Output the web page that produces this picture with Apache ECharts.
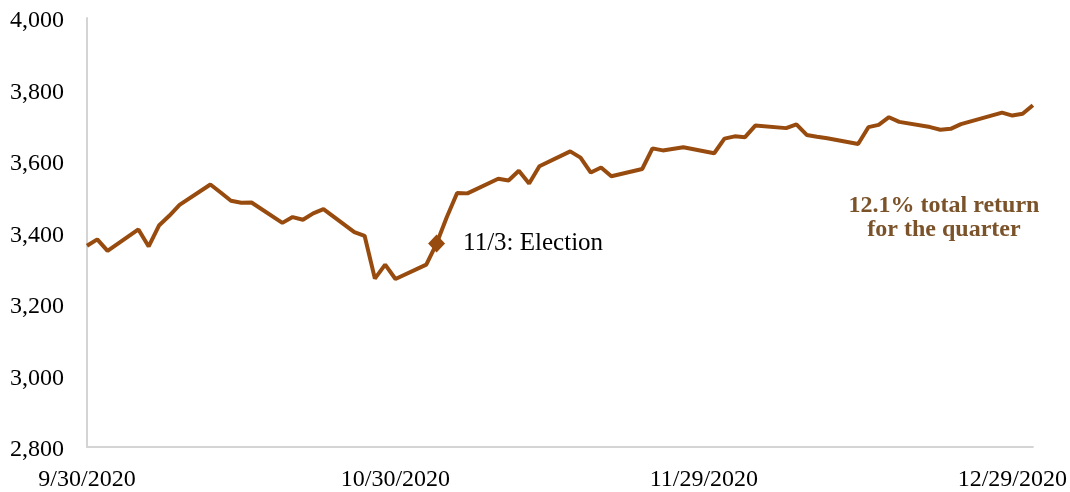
<!DOCTYPE html>
<html>
<head>
<meta charset="utf-8">
<script src="https://cdn.jsdelivr.net/npm/echarts@6/dist/echarts.min.js"></script>
<style>
  html, body { margin: 0; padding: 0; background: #fff; }
  #chart { width: 1070px; height: 492px; }
</style>
</head>
<body>
<div id="chart"></div>
<script>
// S&P 500 daily closes, Q4 2020
const dates = [
  '2020-09-30','2020-10-01','2020-10-02','2020-10-05','2020-10-06','2020-10-07','2020-10-08','2020-10-09',
  '2020-10-12','2020-10-13','2020-10-14','2020-10-15','2020-10-16','2020-10-19','2020-10-20','2020-10-21',
  '2020-10-22','2020-10-23','2020-10-26','2020-10-27','2020-10-28','2020-10-29','2020-10-30','2020-11-02',
  '2020-11-03','2020-11-04','2020-11-05','2020-11-06','2020-11-09','2020-11-10','2020-11-11','2020-11-12',
  '2020-11-13','2020-11-16','2020-11-17','2020-11-18','2020-11-19','2020-11-20','2020-11-23','2020-11-24',
  '2020-11-25','2020-11-27','2020-11-30','2020-12-01','2020-12-02','2020-12-03','2020-12-04','2020-12-07',
  '2020-12-08','2020-12-09','2020-12-10','2020-12-11','2020-12-14','2020-12-15','2020-12-16','2020-12-17',
  '2020-12-18','2020-12-21','2020-12-22','2020-12-23','2020-12-24','2020-12-28','2020-12-29','2020-12-30',
  '2020-12-31'
];
const closes = [
  3363.00, 3380.80, 3348.42, 3408.60, 3360.97, 3419.44, 3446.83, 3477.14,
  3534.22, 3511.93, 3488.67, 3483.34, 3483.81, 3426.92, 3443.12, 3435.56,
  3453.49, 3465.39, 3400.97, 3390.68, 3271.03, 3310.11, 3269.96, 3310.24,
  3369.16, 3443.44, 3510.45, 3509.44, 3550.50, 3545.53, 3572.66, 3537.01,
  3585.15, 3626.91, 3609.53, 3567.79, 3581.87, 3557.54, 3577.59, 3635.41,
  3629.65, 3638.35, 3621.63, 3662.45, 3669.01, 3666.72, 3699.12, 3691.96,
  3702.25, 3672.82, 3668.10, 3663.46, 3647.49, 3694.62, 3701.17, 3722.48,
  3709.41, 3694.92, 3687.26, 3690.01, 3703.06, 3735.36, 3727.04, 3732.04,
  3756.07
];
const startDate = '2020-09-30';
const endDate = '2020-12-31';
const tickStepDays = 30;
const yTicks = [2800, 3000, 3200, 3400, 3600, 3800, 4000];
const eventDate = '2020-11-03';
const eventLabel = '11/3: Election';
const noteLines = ['12.1% total return', 'for the quarter'];

const DAY = 86400000;
const toUTC = s => { const p = s.split('-').map(Number); return Date.UTC(p[0], p[1] - 1, p[2]); };
const t0 = toUTC(startDate);
const dayIndex = s => Math.round((toUTC(s) - t0) / DAY);
const dayLabel = d => {
  const dt = new Date(t0 + d * DAY);
  return (dt.getUTCMonth() + 1) + '/' + dt.getUTCDate() + '/' + dt.getUTCFullYear();
};

const lineData = dates.map((d, i) => [dayIndex(d), closes[i]]);
const eventPoint = [dayIndex(eventDate), closes[dates.indexOf(eventDate)]];

const serif = '"Liberation Serif", "Times New Roman", serif';
const lineColor = '#984b0e';
const axisColor = '#d4d4d4';

const chart = echarts.init(document.getElementById('chart'), null, { renderer: 'canvas' });
chart.setOption({
  animation: false,
  backgroundColor: '#ffffff',
  grid: { left: 87, right: 34, top: 18, bottom: 45, containLabel: false },
  xAxis: {
    type: 'value',
    min: 0,
    max: dayIndex(endDate),
    interval: tickStepDays,
    axisLine: { show: true, lineStyle: { color: axisColor, width: 2 } },
    axisTick: { show: false },
    splitLine: { show: false },
    axisLabel: {
      margin: 21,
      fontFamily: serif,
      fontSize: 24,
      color: '#000',
      showMaxLabel: false,
      formatter: v => (v % tickStepDays === 0 ? dayLabel(v) : '')
    }
  },
  yAxis: {
    type: 'value',
    min: yTicks[0],
    max: yTicks[yTicks.length - 1],
    interval: yTicks[1] - yTicks[0],
    axisLine: { show: true, lineStyle: { color: axisColor, width: 2 } },
    axisTick: { show: false },
    splitLine: { show: false },
    axisLabel: {
      margin: 23,
      fontFamily: serif,
      fontSize: 24,
      color: '#000',
      formatter: v => '{v|' + v.toLocaleString('en-US') + '}',
      rich: {
        v: { fontFamily: serif, fontSize: 24, color: '#000', padding: [6, 0, 0, 0] }
      }
    }
  },
  series: [
    {
      type: 'line',
      data: lineData,
      showSymbol: false,
      symbol: 'none',
      lineStyle: { color: lineColor, width: 4 },
      z: 2
    },
    {
      type: 'scatter',
      data: [eventPoint],
      symbol: 'diamond',
      symbolSize: [17, 18],
      itemStyle: { color: lineColor, opacity: 1 },
      emphasis: { disabled: true },
      label: {
        show: true,
        position: 'right',
        distance: 18,
        formatter: eventLabel,
        fontFamily: serif,
        fontSize: 25,
        color: '#000'
      },
      z: 3
    }
  ],
  graphic: [
    {
      type: 'text',
      x: 944,
      y: 194,
      style: {
        text: noteLines.join('\n'),
        align: 'center',
        verticalAlign: 'top',
        font: 'bold 24px ' + serif,
        lineHeight: 24,
        fill: '#7b532b'
      }
    }
  ]
});
</script>
</body>
</html>
